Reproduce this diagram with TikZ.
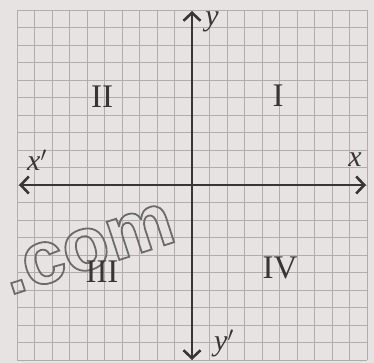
\documentclass[tikz,border=0pt]{standalone}
\usepackage{fontspec}
\setmainfont{Liberation Serif}
\newfontfamily\wmfont{Liberation Sans}
\usetikzlibrary{arrows.meta}
\definecolor{paper}{RGB}{232,227,227}
\definecolor{gridc}{RGB}{178,172,172}
\definecolor{axisc}{RGB}{58,52,52}
\newcommand{\outlinetext}[1]{\special{pdf:literal direct 1 Tr 1.8 w 0.42 G}#1\special{pdf:literal direct 0 Tr 0 G}}
\tikzset{
  gridline/.style={draw=gridc,line width=0.7pt},
  axis/.style={draw=axisc,line width=2.6pt,{Straight Barb[length=8pt,width=17pt,line width=2.6pt]}-{Straight Barb[length=8pt,width=17pt,line width=2.6pt]}},
  quad/.style={text=axisc,font=\fontsize{33}{35}\selectfont,inner sep=0pt},
  axlab/.style={text=axisc,font=\fontsize{30}{32}\selectfont\itshape,inner sep=0pt},
  wm/.style={font=\wmfont\bfseries\fontsize{76}{76}\selectfont,rotate=18,inner sep=0pt}
}
\begin{document}
\begin{tikzpicture}[x=1pt,y=-1pt]
\fill[paper] (0,0) rectangle (374,363);
\useasboundingbox (0,0) rectangle (374,363);
\foreach \i in {0,...,20}{
  \draw[gridline] (17+17.5*\i,10) -- (17+17.5*\i,360);
  \draw[gridline] (17,10+17.5*\i) -- (367,10+17.5*\i);
}
% watermark
\node[wm] (wm) at (88,249) {\outlinetext{.com}};
% axes
\coordinate (xl) at (19,185);
\coordinate (xr) at (366,185);
\coordinate (yt) at (192,11);
\coordinate (yb) at (192,360);
\draw[axis] (xl) -- (xr);
\draw[axis] (yb) -- (yt);
% labels
\node[axlab] (ylab) at (212,22) {y};
\node[axlab] (xlab) at (355,160) {x};
\node[axlab] (xplab) at (37,160) {x$'$};
\node[axlab] (yplab) at (224,343) {y$'$};
\node[quad] (q1) at (278,96) {I};
\node[quad] (q2) at (102,97) {II};
\node[quad] (q3) at (102,272) {III};
\node[quad] (q4) at (280,268) {IV};
\end{tikzpicture}
\end{document}
